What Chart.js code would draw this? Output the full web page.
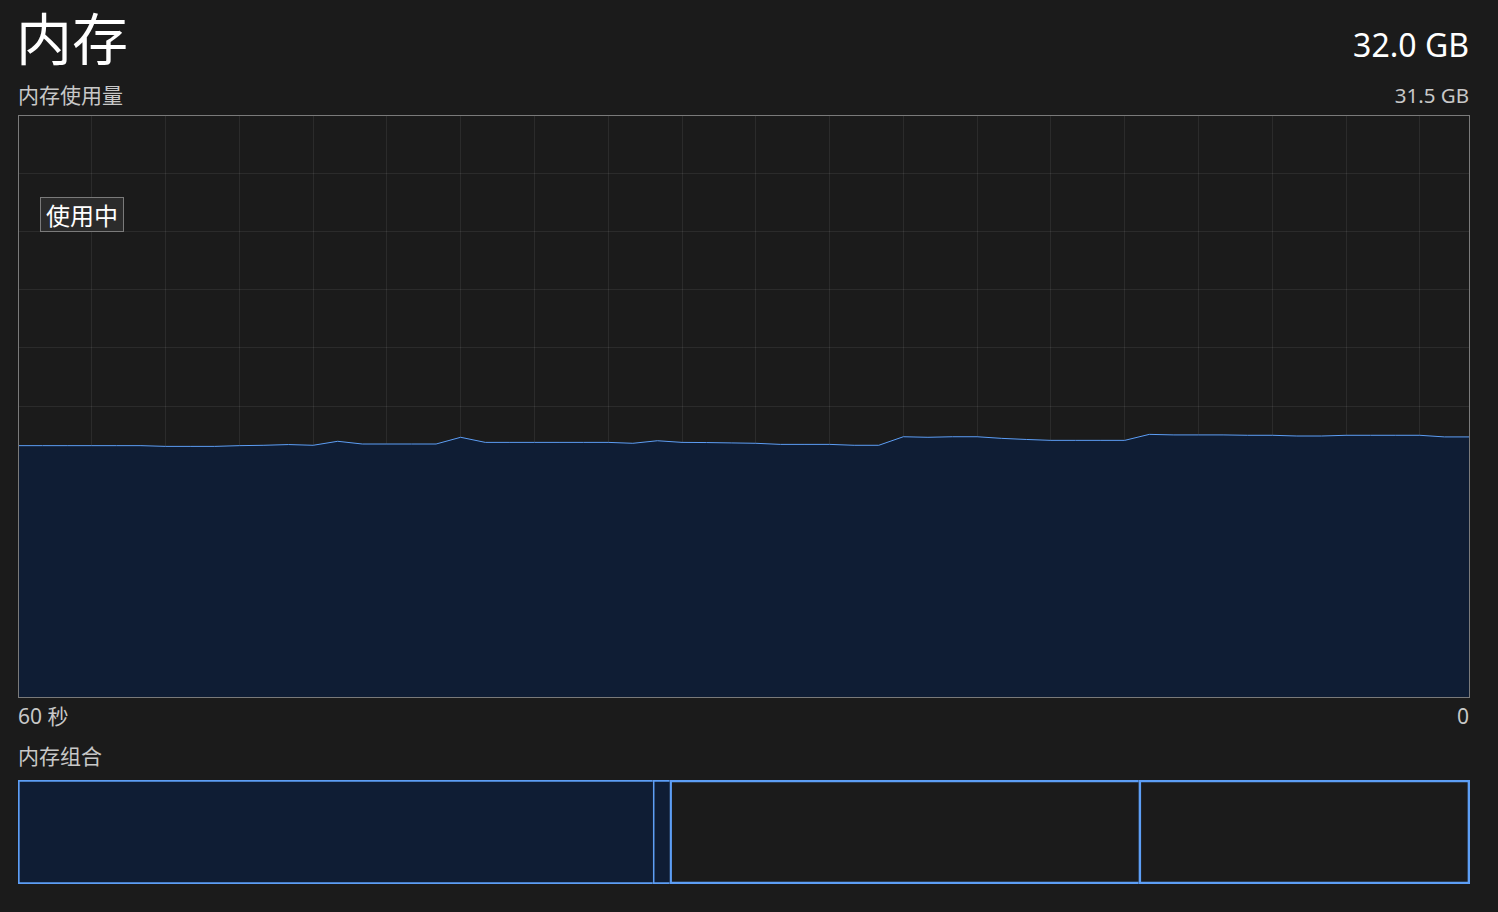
<!DOCTYPE html>
<html>
<head>
<meta charset="utf-8">
<script src="https://cdn.jsdelivr.net/npm/chart.js@4/dist/chart.umd.min.js"></script>
<style>
  html, body { margin: 0; padding: 0; background: #1b1b1b; overflow: hidden; }
  body { width: 1498px; height: 912px; position: relative; font-family: "Noto Sans", "Noto Sans CJK SC", sans-serif; }
  .t { position: absolute; line-height: 1; white-space: nowrap; }
  #title { left: 16px; top: 8px; font-size: 56px; color: #ffffff; font-family: "Noto Sans CJK SC", sans-serif; }
  #total { right: 29px; top: 29px; font-size: 32px; color: #ffffff; }
  #sub { left: 18px; top: 84px; font-size: 21px; color: #c8c8c8; font-family: "Noto Sans CJK SC", sans-serif; }
  #max { right: 29px; top: 85px; font-size: 20.5px; color: #c8c8c8; }
  #xl { left: 18px; top: 706px; font-size: 21px; color: #c8c8c8; font-family: "Noto Sans", "Noto Sans CJK SC", sans-serif; }
  #xr { right: 29px; top: 706px; font-size: 21px; color: #c8c8c8; }
  #comp { left: 18px; top: 745px; font-size: 21px; color: #c8c8c8; font-family: "Noto Sans CJK SC", sans-serif; }
  #lineWrap { position: absolute; left: 18px; top: 115px; width: 1452px; height: 583px; }
  #frame { position: absolute; left: 18px; top: 115px; width: 1450px; height: 581px; border: 1px solid #7a7a7a; pointer-events: none; }
  #tip { position: absolute; left: 40px; top: 197px; width: 82px; height: 33px; background: #2b2b2b; border: 1px solid #7a7a7a; color: #ffffff; font-size: 24px; line-height: 33px; text-align: center; font-family: "Noto Sans CJK SC", sans-serif; }
  #barWrap { position: absolute; left: 18px; top: 780px; width: 1452px; height: 104px; }
</style>
</head>
<body>
<div class="t" id="title">内存</div>
<div class="t" id="total">32.0 GB</div>
<div class="t" id="sub">内存使用量</div>
<div class="t" id="max">31.5 GB</div>
<div id="lineWrap"><canvas id="lineChart"></canvas></div>
<div id="frame"></div>
<div id="tip">使用中</div>
<div class="t" id="xl">60 秒</div>
<div class="t" id="xr">0</div>
<div class="t" id="comp">内存组合</div>
<div id="barWrap"><canvas id="barChart"></canvas></div>
<script>
// ---- data ----
const totalGB = 32;
const yGridStep = 3.2;
// 60 one-second samples, oldest (left, "60 秒") to newest (right, "0"), GB in use
const memoryUsedGB = [
  13.82, 13.82, 13.82, 13.82, 13.82, 13.82, 13.78, 13.78, 13.78, 13.82,
  13.84, 13.88, 13.84, 14.06, 13.91, 13.91, 13.91, 13.91, 14.28, 14.00,
  14.00, 14.00, 14.00, 14.00, 14.00, 13.95, 14.09, 14.00, 13.99, 13.97,
  13.95, 13.89, 13.89, 13.89, 13.84, 13.84, 14.31, 14.28, 14.31, 14.31,
  14.22, 14.16, 14.11, 14.11, 14.11, 14.11, 14.44, 14.41, 14.41, 14.41,
  14.39, 14.39, 14.35, 14.35, 14.39, 14.39, 14.39, 14.39, 14.30, 14.30
];
const xGridTicks = [3, 6, 9, 12, 15, 18, 21, 24, 27, 30, 33, 36, 39, 42, 45, 48, 51, 54, 57];
const xEdgeLabels = ["60 秒", "0"];
// memory composition (GB)
const compLabels = ["使用中", "已修改", "备用", "可用"];
const compValues = [13.99, 0.37, 10.34, 7.30];
const compFilled = [true, true, false, false];

const lineColor = "#5d9ef5";
const fillColor = "#0f1d34";
const gridColor = "rgba(255,255,255,0.075)";

document.getElementById("xl").textContent = xEdgeLabels[0];
document.getElementById("xr").textContent = xEdgeLabels[1];

new Chart(document.getElementById("lineChart"), {
  type: "line",
  data: {
    datasets: [{
      label: "使用中",
      data: memoryUsedGB.map((v, i) => ({ x: i, y: v })),
      borderColor: lineColor,
      borderWidth: 1,
      backgroundColor: fillColor,
      fill: "origin",
      pointRadius: 0,
      tension: 0
    }]
  },
  options: {
    responsive: true,
    maintainAspectRatio: false,
    animation: false,
    layout: { padding: { left: 0, right: 1, top: 0, bottom: 1 } },
    plugins: { legend: { display: false }, tooltip: { enabled: false } },
    scales: {
      x: {
        type: "linear",
        min: 0,
        max: memoryUsedGB.length - 1,
        z: 1,
        afterBuildTicks: (s) => { s.ticks = xGridTicks.map(v => ({ value: v })); },
        ticks: { display: false },
        grid: { color: gridColor, drawTicks: false, lineWidth: 1 },
        border: { display: false }
      },
      y: {
        min: 0,
        max: totalGB,
        z: 1,
        ticks: { display: false, stepSize: yGridStep },
        grid: { color: gridColor, drawTicks: false, lineWidth: 1 },
        border: { display: false }
      }
    }
  }
});

new Chart(document.getElementById("barChart"), {
  type: "bar",
  data: {
    labels: ["内存组合"],
    datasets: compValues.map((v, i) => ({
      label: compLabels[i],
      data: [v],
      backgroundColor: compFilled[i] ? fillColor : "rgba(0,0,0,0)",
      borderColor: lineColor,
      borderWidth: { left: 2, top: 2, bottom: 2, right: i === compValues.length - 1 ? 2 : 0 },
      borderSkipped: false,
      barPercentage: 1,
      categoryPercentage: 1
    }))
  },
  options: {
    indexAxis: "y",
    responsive: true,
    maintainAspectRatio: false,
    animation: false,
    layout: { padding: 0 },
    plugins: { legend: { display: false }, tooltip: { enabled: false } },
    scales: {
      x: { stacked: true, min: 0, max: totalGB, display: false },
      y: { stacked: true, display: false }
    }
  }
});
</script>
</body>
</html>
